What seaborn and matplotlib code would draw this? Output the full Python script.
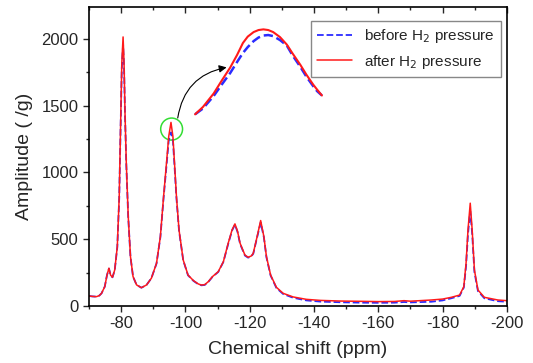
import matplotlib
matplotlib.use('Agg')
import seaborn as sns
import matplotlib.pyplot as plt
from matplotlib.patches import Ellipse
from matplotlib.ticker import MultipleLocator

# spectrum
ppm = [-70.0, -71.0, -72.3, -73.2, -73.9, -74.9, -75.6, -76.2, -76.7, -77.3,
       -78.0, -78.8, -79.4, -79.8, -80.2, -80.6, -80.9, -81.2, -81.6, -82.2,
       -82.9, -83.7, -84.8, -86.3, -87.9, -89.4, -91.0, -92.2, -93.2, -94.1,
       -94.8, -95.5, -96.1, -96.6, -97.2, -98.0, -99.3, -100.8, -102.5, -104.0,
       -105.0, -106.0, -107.1, -108.4, -110.2, -111.8, -113.3, -114.5, -115.4, -116.2,
       -117.0, -118.5, -119.5, -120.5, -121.1, -122.3, -123.4, -124.4, -125.2, -126.5,
       -128.3, -130.4, -133.5, -137.6, -142.0, -148.5, -155.0, -160.0, -165.0, -168.0,
       -170.0, -176.5, -180.0, -182.7, -185.3, -186.6, -187.3, -187.9, -188.6, -189.2,
       -189.9, -191.0, -193.0, -197.2, -200.0]
after = [75, 72, 70, 78, 95, 145, 232, 283, 232, 215,
         270, 445, 820, 1320, 1820, 2015, 1820, 1445, 1070, 670,
         370, 220, 158, 137, 158, 208, 320, 520, 820, 1070,
         1270, 1375, 1270, 1070, 820, 570, 345, 232, 190, 165,
         157, 160, 182, 220, 257, 332, 470, 570, 615, 560,
         470, 382, 365, 375, 395, 520, 640, 520, 370, 232,
         140, 95, 68, 50, 42, 37, 35, 33, 34, 40,
         36, 45, 52, 65, 82, 145, 320, 570, 770, 570,
         270, 120, 65, 45, 40]
before = [75, 72, 70, 78, 95, 145, 232, 280, 232, 215,
          268, 440, 810, 1300, 1780, 1960, 1790, 1430, 1060, 665,
          368, 220, 158, 137, 158, 208, 318, 515, 810, 1050,
          1240, 1300, 1240, 1050, 810, 565, 343, 230, 188, 163,
          155, 158, 180, 218, 255, 330, 465, 565, 610, 555,
          465, 378, 362, 372, 392, 515, 625, 515, 365, 228,
          135, 90, 62, 42, 33, 28, 25, 24, 25, 30,
          27, 32, 42, 58, 76, 138, 300, 540, 710, 545,
          255, 112, 58, 36, 32]

# magnified top of the -96 ppm peak
zoom_ppm = [-95.00, -95.08, -95.19, -95.27, -95.36, -95.43, -95.49, -95.54, -95.60, -95.65,
            -95.70, -95.75, -95.80, -95.87, -95.94, -96.00, -96.08, -96.14, -96.21, -96.25, -96.30]
zoom_after = [1290.0, 1297.6, 1311.6, 1324.6, 1338.7, 1351.7, 1364.2, 1370.9, 1375.6, 1377.7,
              1378.4, 1377.7, 1375.6, 1370.4, 1362.6, 1353.2, 1341.3, 1331.4, 1321.0, 1315.8, 1309.6]
zoom_before = [1290.0, 1296.0, 1309.0, 1320.5, 1333.0, 1344.4, 1353.8, 1360.0, 1366.2, 1369.9,
               1372.0, 1372.5, 1371.4, 1367.3, 1361.6, 1351.2, 1339.2, 1329.3, 1319.4, 1314.2, 1309.6]

sns.set_style("ticks")
plt.rcParams['font.family'] = ['Liberation Sans', 'DejaVu Sans']
plt.rcParams['axes.unicode_minus'] = False

fig = plt.figure(figsize=(5.33, 3.63), dpi=100)
ax = fig.add_axes([0.167, 0.157, 0.784, 0.824])

sns.lineplot(x=ppm, y=before, ax=ax, color='#2b2bff', linestyle='--', lw=1.3,
             label='before H$_2$ pressure', sort=False)
sns.lineplot(x=ppm, y=after, ax=ax, color='#ff1a1a', lw=1.1,
             label='after H$_2$ pressure', sort=False)

ax.set_xlim(-70, -200)
ax.set_ylim(0, 2240)
ax.xaxis.set_major_locator(MultipleLocator(20))
ax.xaxis.set_minor_locator(MultipleLocator(10))
ax.yaxis.set_major_locator(MultipleLocator(500))
ax.yaxis.set_minor_locator(MultipleLocator(250))
ax.tick_params(axis='both', which='major', labelsize=12, length=4, width=1, direction='out')
ax.tick_params(axis='both', which='minor', length=2.5, width=1, direction='out')
ax.tick_params(axis='x', which='both', top=True, labeltop=False)
# top ticks point inwards
for t in ax.xaxis.get_ticklines(minor=False)[1::2] + ax.xaxis.get_ticklines(minor=True)[1::2]:
    t.set_marker(3)
for s in ax.spines.values():
    s.set_linewidth(1.2)
    s.set_color('black')
    s.set_visible(True)

ax.set_xlabel('Chemical shift (ppm)', fontsize=14, labelpad=7)
ax.set_ylabel('Amplitude ( /g)', fontsize=14, labelpad=6)

leg = ax.legend(loc='upper right', bbox_to_anchor=(0.986, 0.953), borderaxespad=0,
                fontsize=11, frameon=True, fancybox=False, framealpha=1,
                handlelength=2.3, edgecolor='#888888', borderpad=0.4, labelspacing=0.5)
leg.get_frame().set_linewidth(1)

# green circle round the peak and the arrow to the magnified view
ax.add_patch(Ellipse((-95.7, 1325), 6.8, 165, fill=False, edgecolor='#33dd33', lw=1.1))
ax.annotate('', xy=(-112.8, 1787), xytext=(-97.6, 1408),
            arrowprops=dict(arrowstyle='-|>', color='black', lw=0.8, mutation_scale=11,
                            connectionstyle='arc3,rad=-0.35', shrinkA=0, shrinkB=0))

inset = fig.add_axes([0.366, 0.675, 0.238, 0.256])
inset.plot(zoom_ppm, zoom_before, color='#2b2bff', linestyle='--', lw=1.8, clip_on=False)
inset.plot(zoom_ppm, zoom_after, color='#ff1a1a', lw=1.5, clip_on=False)
inset.set_xlim(-95.0, -96.3)
inset.set_ylim(1286.2, 1382.9)
inset.axis('off')

fig.savefig('out.png', dpi=100)
